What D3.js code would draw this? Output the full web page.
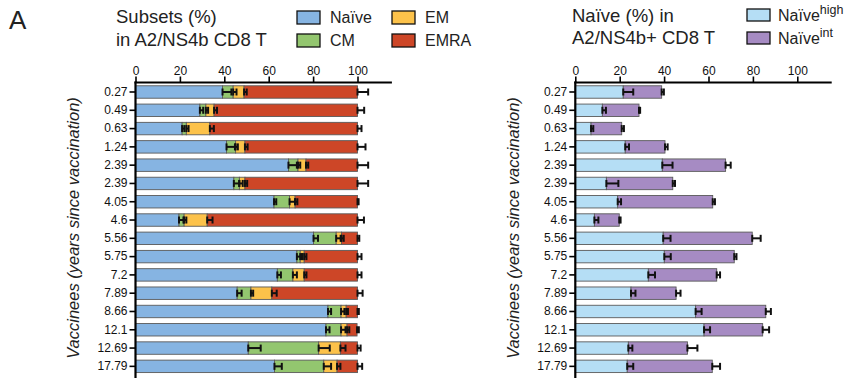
<!DOCTYPE html>
<html>
<head>
<meta charset="utf-8">
<script src="https://cdn.jsdelivr.net/npm/d3@7"></script>
<style>
  body { margin: 0; background: #fff; }
  svg { display: block; font-family: "Liberation Sans", Arial, Helvetica, sans-serif; }
</style>
</head>
<body>
<svg id="chart" width="852" height="378"></svg>
<script>
// Vaccinees, labelled by years since vaccination
const vaccinees = ["0.27","0.49","0.63","1.24","2.39","2.39","4.05","4.6","5.56","5.75","7.2","7.89","8.66","12.1","12.69","17.79"];
const xTicks = [0, 20, 40, 60, 80, 100];

// Subsets (%) in A2/NS4b CD8 T — segment sizes and their errors
const naive    = [39.2, 29.0, 21.0, 41.0, 68.9, 44.3, 62.4, 19.6, 80.2, 72.7, 63.9, 45.8, 86.7, 85.8, 50.8, 62.6];
const cm       = [ 4.8,  2.7,  1.9,  4.1,  4.3,  2.5,  7.0,  2.3, 10.2,  1.5,  7.0,  6.2,  5.9,  6.8, 31.7, 22.2];
const em       = [ 4.9,  3.7, 10.6,  4.2,  3.6,  2.5,  2.5, 10.4,  2.4,  1.8,  5.1,  9.4,  2.3,  2.7,  9.8,  6.0];
const emra     = [51.1, 64.6, 66.5, 50.7, 23.2, 50.7, 28.1, 67.7,  7.2, 24.0, 24.0, 38.6,  5.1,  4.5,  7.7,  9.2];
const naiveErr = [ 4.0,  1.5,  1.0,  3.8,  3.8,  2.4,  1.0,  2.0,  2.0,  2.2,  1.6,  2.0,  1.4,  1.6,  5.6,  3.3];
const cmErr    = [ 1.5,  1.0,  1.0,  1.0,  1.0,  1.5,  2.5,  1.0,  2.0,  1.0,  1.8,  1.0,  1.5,  2.0,  5.0,  3.3];
const emErr    = [ 1.2,  1.3,  1.8,  1.2,  1.0,  1.0,  1.0,  2.4,  1.0,  1.0,  1.0,  2.2,  0.8,  1.0,  2.3,  1.5];
const emraErr  = [ 4.8,  3.0,  1.8,  3.6,  4.8,  4.8,  0.5,  2.9,  0.8,  1.8,  1.8,  2.3,  0.6,  0.8,  1.4,  2.1];

// Naïve (%) in A2/NS4b+ CD8 T — high / intermediate fractions
const naiveHigh    = [21.6, 12.2,  7.1, 22.5, 39.2, 14.0, 19.1,  8.6, 39.6, 40.1, 32.9, 25.1, 54.2, 58.0, 23.9, 23.4];
const naiveInt     = [17.3, 16.5, 13.8, 17.9, 28.5, 29.9, 42.8, 11.2, 40.1, 31.5, 30.8, 20.3, 31.6, 26.4, 26.6, 38.3];
const naiveHighErr = [ 4.5,  1.6,  1.0,  1.7,  4.6,  5.4,  1.5,  1.8,  3.3,  2.9,  3.0,  2.0,  2.7,  2.7,  1.8,  2.7];
const naiveIntErr  = [ 1.0,  0.5,  1.0,  1.2,  2.3,  1.0,  1.0,  0.6,  3.8,  1.0,  1.5,  2.0,  2.3,  2.9,  4.5,  3.5];

const svg = d3.select("#chart");

const rows = vaccinees.map((_, i) => i);
const y = d3.scaleBand().domain(rows).range([82.85, 375.5]).paddingInner(0.32).paddingOuter(0.16);

function drawPanel(opts) {
  const { x, series, colors, errors, axisEnd, titleX } = opts;
  const g = svg.append("g");

  // stacked segments
  rows.forEach(i => {
    let acc = 0;
    series.forEach((s, k) => {
      const v = s[i];
      g.append("rect")
        .attr("x", x(acc))
        .attr("y", y(i))
        .attr("width", x(acc + v) - x(acc))
        .attr("height", y.bandwidth())
        .attr("fill", colors[k])
        .attr("stroke", "#5a5a5a")
        .attr("stroke-width", 0.9);
      acc += v;
    });
  });

  // error bars at the end of each segment (positive direction)
  rows.forEach(i => {
    let acc = 0;
    const cy = y(i) + y.bandwidth() / 2;
    series.forEach((s, k) => {
      acc += s[i];
      const e = errors[k][i];
      const x0 = x(acc), x1 = x(acc + e);
      g.append("line").attr("x1", x0).attr("x2", x1).attr("y1", cy).attr("y2", cy)
        .attr("stroke", "#111").attr("stroke-width", 2);
      [x0, x1].forEach(xx => {
        g.append("line").attr("x1", xx).attr("x2", xx).attr("y1", cy - 3.5).attr("y2", cy + 3.5)
          .attr("stroke", "#111").attr("stroke-width", 2);
      });
    });
  });

  // top value axis
  const top = svg.append("g").attr("transform", "translate(0,82.5)")
    .call(d3.axisTop(x).tickValues(xTicks).tickSize(6).tickPadding(1.5).tickSizeOuter(0));
  top.select(".domain").remove();
  top.selectAll(".tick line").attr("stroke", "#000").attr("stroke-width", 1.6);
  top.selectAll(".tick text").attr("font-size", 12).attr("fill", "#111")
    .attr("font-family", '"Liberation Sans", Arial, sans-serif');
  top.append("line").attr("x1", x(0) - 1).attr("x2", x(axisEnd)).attr("y1", 0).attr("y2", 0)
    .attr("stroke", "#000").attr("stroke-width", 2);

  // category axis
  const left = svg.append("g").attr("transform", `translate(${x(0)},0)`)
    .call(d3.axisLeft(y).tickFormat(i => vaccinees[i]).tickSize(6).tickPadding(2).tickSizeOuter(0));
  left.select(".domain").remove();
  left.selectAll(".tick line").attr("stroke", "#000").attr("stroke-width", 1.6);
  left.selectAll(".tick text").attr("font-size", 12).attr("fill", "#111")
    .attr("font-family", '"Liberation Sans", Arial, sans-serif');
  left.append("line").attr("x1", 0).attr("x2", 0).attr("y1", 81.5).attr("y2", 378)
    .attr("stroke", "#000").attr("stroke-width", 2.2);

  // rotated axis title
  svg.append("text")
    .attr("transform", `translate(${titleX},228) rotate(-90)`)
    .attr("text-anchor", "middle")
    .attr("font-size", 16.5)
    .attr("font-style", "italic")
    .attr("fill", "#222")
    .text("Vaccinees (years since vaccination)");
}

const xLeft = d3.scaleLinear().domain([0, 100]).range([135.5, 357.5]);
const xRight = d3.scaleLinear().domain([0, 100]).range([575.3, 797.3]);

const subsetColors = ["#86b4e2", "#93c66f", "#fcc24a", "#cd4627"];
const naiveColors = ["#b5def5", "#a68bc3"];

drawPanel({
  x: xLeft,
  series: [naive, cm, em, emra],
  colors: subsetColors,
  errors: [naiveErr, cmErr, emErr, emraErr],
  axisEnd: 115.5,
  titleX: 79
});

drawPanel({
  x: xRight,
  series: [naiveHigh, naiveInt],
  colors: naiveColors,
  errors: [naiveHighErr, naiveIntErr],
  axisEnd: 115.5,
  titleX: 519
});

// panel letter
svg.append("text").attr("x", 9).attr("y", 28.5).attr("font-size", 26).attr("fill", "#222").text("A");

// panel titles
const titleStyle = sel => sel.attr("font-size", 18.5).attr("fill", "#222");
svg.append("text").attr("x", 116).attr("y", 23).call(titleStyle).text("Subsets (%)");
svg.append("text").attr("x", 116).attr("y", 45.5).call(titleStyle).text("in A2/NS4b CD8 T");
svg.append("text").attr("x", 572).attr("y", 22).call(titleStyle).text("Naïve (%) in");
svg.append("text").attr("x", 572).attr("y", 44).call(titleStyle).text("A2/NS4b+ CD8 T");

// legend for subsets
const subsetLegend = [
  { label: "Naïve", color: subsetColors[0], x: 297, y: 11 },
  { label: "CM",    color: subsetColors[1], x: 297, y: 34 },
  { label: "EM",    color: subsetColors[2], x: 392, y: 11 },
  { label: "EMRA",  color: subsetColors[3], x: 392, y: 34 }
];
subsetLegend.forEach(d => {
  svg.append("rect").attr("x", d.x).attr("y", d.y).attr("width", 23).attr("height", 13)
    .attr("fill", d.color).attr("stroke", "#111").attr("stroke-width", 1.3);
  svg.append("text").attr("x", d.x + 33).attr("y", d.y + 12).attr("font-size", 16).attr("fill", "#222").text(d.label);
});

// legend for naïve fractions
const naiveLegend = [
  { sup: "high", color: naiveColors[0], y: 9 },
  { sup: "int",  color: naiveColors[1], y: 32 }
];
naiveLegend.forEach(d => {
  svg.append("rect").attr("x", 747).attr("y", d.y).attr("width", 23).attr("height", 12)
    .attr("fill", d.color).attr("stroke", "#111").attr("stroke-width", 1.3);
  const t = svg.append("text").attr("x", 778).attr("y", d.y + 12).attr("font-size", 16).attr("fill", "#222");
  t.append("tspan").text("Naïve");
  t.append("tspan").attr("font-size", 12.5).attr("dy", -7).text(d.sup);
});
</script>
</body>
</html>
